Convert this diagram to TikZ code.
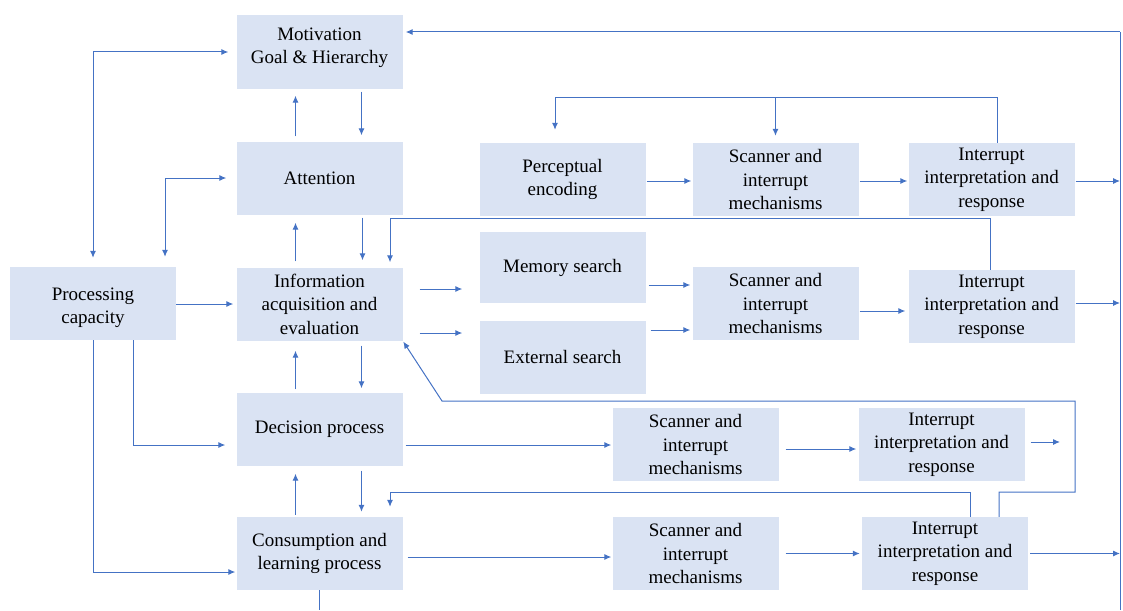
\documentclass[tikz,border=0pt]{standalone}
\usepackage{fontspec}
\setmainfont{Liberation Serif}
\usetikzlibrary{arrows.meta,calc}
\definecolor{boxfill}{HTML}{DAE3F3}
\definecolor{linkblue}{HTML}{4472C4}
\begin{document}
\begin{tikzpicture}[x=1pt,y=-1pt,
  box/.style={fill=boxfill, minimum width=166pt, minimum height=73pt, inner sep=2pt,
    align=center, font=\fontsize{19}{23.5}\selectfont},
  line/.style={draw=linkblue, line width=1pt},
  arr/.style={line, -{Latex[length=7pt,width=6pt]}},
  dbl/.style={line, {Latex[length=7pt,width=6pt]}-{Latex[length=7pt,width=6pt]}}]
\useasboundingbox (0,0) rectangle (1123,610);

% central column
\node[box] (mot)  at (319.5,52)  {Motivation\\Goal \& Hierarchy\\[-18pt]\strut};
\node[box] (att)  at (319.5,178) {Attention};
\node[box] (info) at (319.5,304) {Information\\acquisition and\\evaluation};
\node[box] (dec)  at (319.5,429) {Decision process};
\node[box] (cons) at (319.5,553.5) {Consumption and\\learning process};
\node[box] (proc) at (93,303.5)  {\rule{0pt}{21pt}Processing\\capacity};

% perception row
\node[box] (perc)  at (562.5,179.5) {Perceptual\\encoding};
\node[box] (scan1) at (775.5,179.5) {Scanner and\\interrupt\\mechanisms};
\node[box] (int1)  at (991.5,179.5) {Interrupt\\interpretation and\\response};

% search row
\node[box, minimum height=71pt] (mem) at (562.5,267.5) {Memory search};
\node[box] (ext)   at (562.5,357)   {External search};
\node[box] (scan2) at (775.5,303.5) {Scanner and\\interrupt\\mechanisms};
\node[box] (int2)  at (991.5,306.5) {Interrupt\\interpretation and\\response};

% decision row
\node[box] (scan3) at (695.5,444.5) {Scanner and\\interrupt\\mechanisms};
\node[box] (int3)  at (941.5,444.5) {Interrupt\\interpretation and\\response};

% consumption row
\node[box] (scan4) at (695.5,553.5) {Scanner and\\interrupt\\mechanisms};
\node[box] (int4)  at (945,553.5)   {Interrupt\\interpretation and\\response};

% helper coordinates
\coordinate (busTop) at (1120,32);
\coordinate (busBot) at (1120,610);
\coordinate (topfb) at (0,97);
\coordinate (midfb) at (0,218);
\coordinate (lowfb) at (0,492);
\coordinate (loopRB) at (1075,492);
\coordinate (loopRT) at (1075,401);
\coordinate (loopL) at (442,401);
\coordinate (int3out) at (1060,442);

% right bus back to motivation
\draw[line] (busBot) -- (busTop);
\draw[arr, shorten >=3pt] (busTop) -- (busTop -| mot.east);

% processing capacity links
\draw[dbl, shorten <=9pt, shorten >=8pt] (proc.north) |- (mot.west);
\draw[dbl, shorten <=10pt, shorten >=10pt] ([xshift=72pt]proc.north) |- (att.west);
\draw[arr, shorten >=3pt] (proc.east |- info.west) -- (info.west);
\draw[arr, shorten >=11pt] ([xshift=40pt]proc.south) |- ([yshift=-16pt]dec.west);
\draw[arr, shorten >=1pt] (proc.south) |- ([yshift=-18.5pt]cons.west);

% central column up/down links
\draw[arr, shorten <=5pt, shorten >=7pt] ([xshift=-24pt]att.north) -- ([xshift=-24pt]mot.south);
\draw[arr, shorten <=3pt, shorten >=6pt] ([xshift=42pt]mot.south) -- ([xshift=42pt]att.north);
\draw[arr, shorten <=6pt, shorten >=8pt] ([xshift=-24pt]info.north) -- ([xshift=-24pt]att.south);
\draw[arr, shorten <=3pt, shorten >=7pt] ([xshift=43pt]att.south) -- ([xshift=43pt]info.north);
\draw[arr, shorten <=3pt, shorten >=10pt] ([xshift=-24pt]dec.north) -- ([xshift=-24pt]info.south);
\draw[arr, shorten <=5pt, shorten >=4pt] ([xshift=42pt]info.south) -- ([xshift=42pt]dec.north);
\draw[arr, shorten <=2pt, shorten >=8pt] ([xshift=-24pt]cons.north) -- ([xshift=-24pt]dec.south);
\draw[arr, shorten <=5pt, shorten >=5pt] ([xshift=42pt]dec.south) -- ([xshift=42pt]cons.north);
\draw[line] (cons.south) -- (cons.south |- busBot);

% perception row
\draw[arr, shorten <=1pt, shorten >=1pt] ([yshift=-1.5pt]perc.east) -- ([yshift=-1.5pt]perc.east -| scan1.west);
\draw[arr, shorten <=1pt, shorten >=1pt] ([yshift=-1.5pt]scan1.east) -- ([yshift=-1.5pt]scan1.east -| int1.west);
\draw[arr, shorten <=1pt] ([yshift=-1.5pt]int1.east) -- ([yshift=-1.5pt]int1.east -| busTop);
\draw[line] ([xshift=5.5pt]int1.north) |- ([xshift=-7.5pt]perc.north |- topfb);
\draw[arr, shorten >=13pt] ([xshift=-7.5pt]perc.north |- topfb) -- ([xshift=-7.5pt]perc.north);
\draw[arr, shorten >=7pt] (scan1.north |- topfb) -- (scan1.north);

% search row
\draw[arr, shorten <=17pt, shorten >=17pt] ([yshift=15pt]info.east) -- ([yshift=15pt]info.east -| mem.west);
\draw[arr, shorten <=17pt, shorten >=17pt] ([yshift=-29pt]info.east) -- ([yshift=-29pt]info.east -| ext.west);
\draw[arr, shorten <=3pt, shorten >=2pt] ([yshift=-17.5pt]mem.east) -- ([yshift=-17.5pt]mem.east -| scan2.west);
\draw[arr, shorten <=5pt, shorten >=2pt] ([yshift=27pt]ext.east) -- ([yshift=27pt]ext.east -| scan2.west);
\draw[arr, shorten <=1pt, shorten >=3pt] ([yshift=-7.5pt]scan2.east) -- ([yshift=-7.5pt]scan2.east -| int2.west);
\draw[arr, shorten <=1pt] ([yshift=3.5pt]int2.east) -- ([yshift=3.5pt]int2.east -| busTop);
\draw[arr, shorten >=5pt] ([xshift=-1.5pt]int2.north) |- ([xshift=70.5pt]info.north |- midfb) -- ([xshift=70.5pt]info.north);

% decision row
\draw[arr, shorten <=3pt, shorten >=1pt] ([yshift=-16pt]dec.east) -- ([yshift=-16pt]dec.east -| scan3.west);
\draw[arr, shorten <=7pt, shorten >=2pt] ([yshift=-4.5pt]scan3.east) -- ([yshift=-4.5pt]scan3.east -| int3.west);
\draw[arr, shorten <=6pt] (int3.east |- int3out) -- (int3out);

% consumption row
\draw[arr, shorten <=5pt, shorten >=1pt] ([yshift=-3.5pt]cons.east) -- ([yshift=-3.5pt]cons.east -| scan4.west);
\draw[arr, shorten <=7pt, shorten >=2pt] (scan4.east) -- (scan4.east -| int4.west);
\draw[arr, shorten <=2pt] (int4.east) -- (int4.east -| busTop);

% feedback loops from the consumption row
\draw[arr, shorten >=10pt] ([xshift=25pt]int4.north) |- ([xshift=70.5pt]cons.north |- lowfb) -- ([xshift=70.5pt]cons.north);
\draw[arr, shorten >=1pt] ([xshift=54pt]int4.north) |- (loopRB) -- (loopRT) -- (loopL) -- (info.south east);
\end{tikzpicture}
\end{document}
